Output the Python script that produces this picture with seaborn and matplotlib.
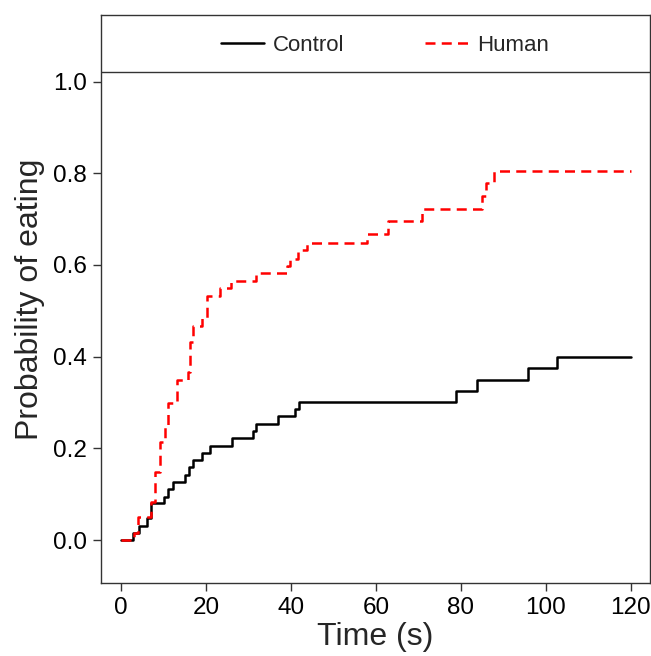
import matplotlib
matplotlib.use("Agg")
import matplotlib.pyplot as plt
import seaborn as sns
import pandas as pd
from matplotlib.lines import Line2D

control_t = [0, 2.9, 4.2, 6.1, 7.1, 10.1, 11.1, 12.2, 15.1, 16.1, 17.0, 19.0, 20.9,
             26.2, 31.1, 31.9, 37.0, 40.9, 42.0, 78.8, 83.7, 95.7, 102.7, 120]
control_p = [0, .016, .031, .048, .080, .095, .111, .127, .143, .159, .175, .190, .206,
             .222, .238, .254, .270, .286, .302, .326, .350, .375, .400, .400]

human_t = [0, 3.1, 4.1, 7.1, 8.0, 9.1, 10.3, 11.1, 13.1, 15.8, 16.2, 17.0, 19.0, 20.2,
           23.3, 26.0, 31.9, 39.0, 39.9, 41.7, 43.8, 57.8, 62.9, 70.8, 84.9, 85.8, 87.9, 120]
human_p = [0, .016, .051, .084, .148, .215, .251, .300, .349, .367, .433, .466, .484, .533,
           .549, .566, .582, .598, .614, .632, .648, .667, .695, .723, .750, .779, .806, .806]

groups = ["Control", "Human"]
x_ticks = [0, 20, 40, 60, 80, 100, 120]
y_ticks = [0.0, 0.2, 0.4, 0.6, 0.8, 1.0]

df = pd.concat([
    pd.DataFrame({"Time": control_t, "Prob": control_p, "Group": "Control"}),
    pd.DataFrame({"Time": human_t, "Prob": human_p, "Group": "Human"}),
], ignore_index=True)

sns.set_theme(style="white")
plt.rcParams["font.family"] = ["Liberation Sans", "DejaVu Sans"]

fig = plt.figure(figsize=(6.51, 6.56), dpi=100)
ax = fig.add_axes([0.155, 0.111, 0.8435, 0.866])

palette = {"Control": "black", "Human": "#ff0000"}
dashes = {"Control": "", "Human": (4, 2.5)}
sns.lineplot(data=df, x="Time", y="Prob", hue="Group", style="Group",
             palette=palette, dashes=dashes, drawstyle="steps-post",
             estimator=None, sort=False, linewidth=1.8, legend=False, ax=ax)

ax.set_xlim(-4.7, 124.5)
ax.set_ylim(-0.094, 1.145)
ax.set_xticks(x_ticks)
ax.set_xticklabels([str(v) for v in x_ticks])
ax.set_yticks(y_ticks)
ax.set_yticklabels([f"{v:.1f}" for v in y_ticks])
ax.tick_params(axis="both", direction="out", length=6, width=1, color="#333333",
               labelsize=17.5, colors="black", bottom=True, left=True, pad=4)
for s in ax.spines.values():
    s.set_color("#333333")
    s.set_linewidth(1.0)

ax.axhline(1.021, color="#333333", linewidth=1.0)

ax.set_xlabel("Time (s)", fontsize=23, labelpad=2)
ax.set_ylabel("Probability of eating", fontsize=23, labelpad=6)

handles = [Line2D([0], [0], color="black", lw=1.8),
           Line2D([0], [0], color="#ff0000", lw=1.8, dashes=(4, 2.5))]
ax.legend(handles, groups, loc="center", bbox_to_anchor=(0.517, 0.947), ncol=2,
          frameon=False, fontsize=16, handlelength=1.95, columnspacing=3.6,
          handletextpad=0.4)

fig.savefig("out.png", dpi=100)
